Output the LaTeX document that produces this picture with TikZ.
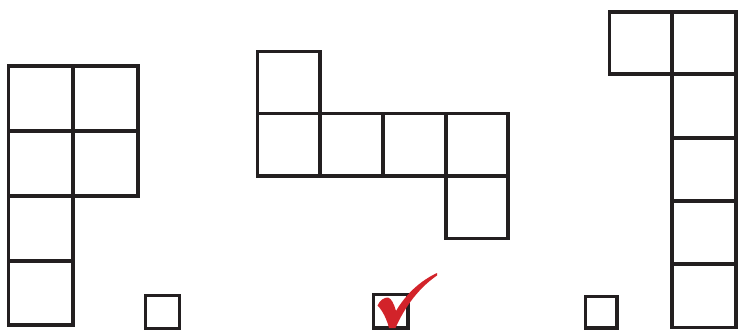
\documentclass[tikz,border=0pt]{standalone}
\begin{document}
\begin{tikzpicture}[x=1pt,y=-1pt,
  cell/.style={draw=ink,line width=3.9pt,line join=miter},
  tick/.style={fill=checkred,draw=none}]
\definecolor{ink}{HTML}{231F20}
\definecolor{checkred}{HTML}{D2232A}
\useasboundingbox (0,0) rectangle (738,331);
% left figure
\draw[cell] (8.5,66) rectangle (73.3,130.7);
\draw[cell] (73.3,66) rectangle (138.3,130.7);
\draw[cell] (8.5,130.7) rectangle (73.3,195.7);
\draw[cell] (73.3,130.7) rectangle (138.3,195.7);
\draw[cell] (8.5,195.7) rectangle (73.3,260.7);
\draw[cell] (8.5,260.7) rectangle (73.3,325.3);
% middle figure
\draw[cell] (257.5,51.5) rectangle (320,113.5);
\draw[cell] (257.5,113.5) rectangle (320,176);
\draw[cell] (320,113.5) rectangle (382.7,176);
\draw[cell] (382.7,113.5) rectangle (445.7,176);
\draw[cell] (445.7,113.5) rectangle (507.7,176);
\draw[cell] (445.7,176) rectangle (507.7,238.5);
% right figure
\draw[cell] (609.5,12) rectangle (671.7,73.7);
\draw[cell] (671.7,12) rectangle (736,73.7);
\draw[cell] (671.7,73.7) rectangle (736,137.7);
\draw[cell] (671.7,137.7) rectangle (736,201.3);
\draw[cell] (671.7,201.3) rectangle (736,264.3);
\draw[cell] (671.7,264.3) rectangle (736,327.5);
% answer boxes
\draw[cell] (145.5,295.5) rectangle (179.5,328.5);
\draw[cell] (373.5,294.5) rectangle (408,328);
\draw[cell] (585.5,296.5) rectangle (617,328);
% check mark
\fill[tick] (377.5,305.5) .. controls (380,300) and (384,297.5) .. (388,297.5)
  .. controls (391.5,298.5) and (394,304) .. (396,311)
  .. controls (406,294) and (420,281) .. (437,273)
  -- (437,275.5)
  .. controls (420,287) and (405,306) .. (395.5,328)
  -- (389,328)
  .. controls (387,320) and (383,311) .. (377.5,305.5) -- cycle;
\end{tikzpicture}
\end{document}
